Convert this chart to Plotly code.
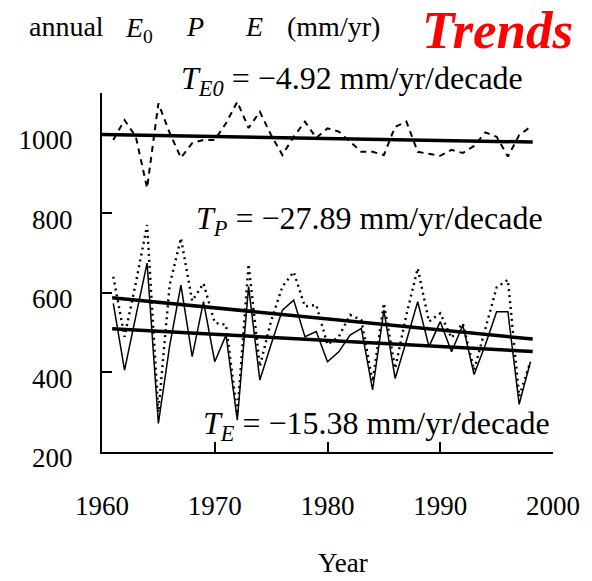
import numpy as np
import plotly.graph_objects as go

# Annual series, 1961-1998 (mm/yr)
years = list(range(1961, 1999))

e0_values = [985, 1035, 993, 864, 1077, 1003, 940, 977, 985, 985,
             1027, 1081, 1015, 1056, 997, 947, 993, 1031, 990, 1014,
             1006, 981, 955, 955, 947, 1018, 1031, 955, 950, 945,
             960, 952, 970, 1004, 993, 943, 997, 1018]

p_values = [641, 490, 625, 771, 300, 620, 738, 580, 624, 525,
            520, 295, 672, 415, 530, 616, 653, 566, 570, 470,
            490, 545, 532, 377, 574, 410, 545, 662, 528, 549,
            487, 524, 406, 511, 614, 633, 340, 427]

e_values = [574, 406, 542, 675, 272, 467, 620, 440, 578, 427,
            494, 280, 616, 381, 471, 557, 582, 490, 503, 427,
            452, 494, 511, 356, 557, 385, 480, 578, 465, 528,
            452, 519, 395, 470, 553, 553, 320, 427]

# Trend slopes, mm/yr per decade
trend_e0 = -4.92
trend_p = -27.89
trend_e = -15.38

x_ticks = [1960, 1970, 1980, 1990, 2000]
y_ticks = [200, 400, 600, 800, 1000]

FONT = "Liberation Serif"


def trend_line(vals, slope_decade, x0, x1):
    yrs = np.array(years, dtype=float)
    v = np.array(vals, dtype=float)
    b = slope_decade / 10.0
    xm, ym = yrs.mean(), v.mean()
    xs = np.array([x0, x1], dtype=float)
    return xs, ym + b * (xs - xm)


fig = go.Figure()

fig.add_trace(go.Scatter(x=years, y=e0_values, mode="lines",
                         line=dict(color="black", width=2, dash="6px,5px")))
fig.add_trace(go.Scatter(x=years, y=p_values, mode="lines",
                         line=dict(color="black", width=2.4, dash="2px,4px")))
fig.add_trace(go.Scatter(x=years, y=e_values, mode="lines",
                         line=dict(color="black", width=1.5)))

for vals, slope, x0 in [(e0_values, trend_e0, 1960.0),
                        (p_values, trend_p, 1960.9),
                        (e_values, trend_e, 1960.9)]:
    tx, ty = trend_line(vals, slope, x0, 1998.2)
    fig.add_trace(go.Scatter(x=tx, y=ty, mode="lines",
                             line=dict(color="black", width=3.5)))

L, R, T, B = 102, 32, 93, 129
W, H = 592, 581
PW, PH = W - L - R, H - T - B


def px(xp):
    return (xp - L) / PW


def py(yp):
    return (H - B - yp) / PH


txt = dict(family=FONT, size=32, color="black")
hdr = dict(family=FONT, size=28, color="black")

annotations = [
    dict(text="<i>T</i><sub><i>E0</i></sub> = \u22124.92 mm/yr/decade",
         x=px(180), y=py(80), xanchor="left", yanchor="middle", font=txt),
    dict(text="<i>T</i><sub><i>P</i></sub> = \u221227.89 mm/yr/decade",
         x=px(195), y=py(220), xanchor="left", yanchor="middle", font=txt),
    dict(text="<i>T</i><sub><i>E</i></sub> = \u221215.38 mm/yr/decade",
         x=px(203), y=py(425), xanchor="left", yanchor="middle", font=txt),
    dict(text="annual", x=px(26), y=py(27), xanchor="left", yanchor="middle", font=hdr),
    dict(text="<i>E</i><sub>0</sub>", x=px(123), y=py(29), xanchor="left", yanchor="middle", font=hdr),
    dict(text="<i>P</i>", x=px(185), y=py(27), xanchor="left", yanchor="middle", font=hdr),
    dict(text="<i>E</i>", x=px(245), y=py(27), xanchor="left", yanchor="middle", font=hdr),
    dict(text="(mm/yr)", x=px(288), y=py(27), xanchor="left", yanchor="middle", font=hdr),
    dict(text="<b><i>Trends</i></b>", x=px(504), y=py(30), xanchor="center", yanchor="middle",
         font=dict(family=FONT, size=53, color="#ff0000")),
    dict(text="Year", x=px(347), y=py(563), xanchor="center", yanchor="middle",
         font=dict(family=FONT, size=27, color="black")),
]
for a in annotations:
    a.update(xref="paper", yref="paper", showarrow=False)

fig.update_layout(
    width=W, height=H,
    margin=dict(l=L, r=R, t=T, b=B, pad=0),
    paper_bgcolor="white", plot_bgcolor="white",
    showlegend=False,
    annotations=annotations,
    font=dict(family=FONT, size=27, color="black"),
)

fig.update_xaxes(range=[1960, 2000], tickvals=x_ticks, ticktext=[str(v) for v in x_ticks],
                 showgrid=False, zeroline=False, showline=True, linecolor="black", linewidth=2,
                 ticks="inside", ticklen=10, tickwidth=2, tickcolor="black",
                 ticklabelstandoff=29, tickfont=dict(family=FONT, size=27, color="black"))
fig.update_yaxes(range=[200, 1103], tickvals=y_ticks, ticktext=[str(v) for v in y_ticks],
                 showgrid=False, zeroline=False, showline=True, linecolor="black", linewidth=2,
                 ticks="inside", ticklen=10, tickwidth=2, tickcolor="black",
                 ticklabelstandoff=22, ticklabelshift=6,
                 tickfont=dict(family=FONT, size=27, color="black"))

fig.write_html("out.html")
